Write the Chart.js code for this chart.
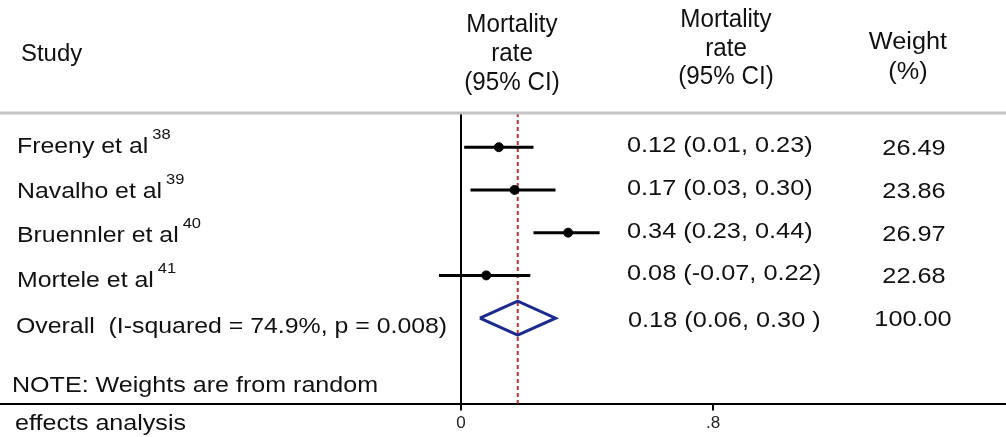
<!DOCTYPE html>
<html>
<head>
<meta charset="utf-8">
<script src="https://cdn.jsdelivr.net/npm/chart.js@4.4.1/dist/chart.umd.min.js"></script>
<style>
  html, body { margin: 0; padding: 0; background: #fff; }
  #wrap { position: relative; width: 1006px; height: 437px; }
</style>
</head>
<body>
<div id="wrap"><canvas id="forest"></canvas></div>
<script>
  "use strict";

  // study rows
  var studies = ["Freeny et al", "Navalho et al", "Bruennler et al", "Mortele et al"];
  var refs = ["38", "39", "40", "41"];
  var estimates = [0.12, 0.17, 0.34, 0.08];
  var lower = [0.01, 0.03, 0.23, -0.07];
  var upper = [0.23, 0.30, 0.44, 0.22];
  var ciText = ["0.12 (0.01, 0.23)", "0.17 (0.03, 0.30)", "0.34 (0.23, 0.44)", "0.08 (-0.07, 0.22)"];
  var weights = ["26.49", "23.86", "26.97", "22.68"];

  // pooled estimate
  var overallLabel = "Overall  (I-squared = 74.9%, p = 0.008)";
  var overallEst = 0.18;
  var overallLow = 0.06;
  var overallHigh = 0.30;
  var overallCi = "0.18 (0.06, 0.30 )";
  var overallWeight = "100.00";

  var xTicks = [0, 0.8];
  var xTickLabels = ["0", ".8"];

  var FONT = "'Liberation Sans', Arial, sans-serif";
  var overallRow = studies.length;

  // CI whiskers, one line dataset per study
  var datasets = [];
  studies.forEach(function(s, i) {
    datasets.push({
      type: "line",
      data: [{x: lower[i], y: i}, {x: upper[i], y: i}],
      borderColor: "#000",
      borderWidth: 3,
      pointRadius: 0,
      fill: false
    });
  });
  datasets.push({
    type: "scatter",
    data: estimates.map(function(v, i) { return {x: v, y: i}; }),
    backgroundColor: "#000",
    borderColor: "#000",
    pointRadius: 4.5
  });
  datasets.push({
    type: "line",
    data: [
      {x: overallLow, y: overallRow},
      {x: overallEst, y: overallRow - 0.4},
      {x: overallHigh, y: overallRow},
      {x: overallEst, y: overallRow + 0.4},
      {x: overallLow, y: overallRow}
    ],
    borderColor: "#1b2a8c",
    borderWidth: 3,
    pointRadius: 0,
    tension: 0,
    fill: false
  });

  function txt(ctx, s, x, y, align, size, sx) {
    ctx.save();
    ctx.font = size + "px " + FONT;
    ctx.textBaseline = "middle";
    ctx.textAlign = "left";
    var w = ctx.measureText(s).width * sx;
    var left = align === "center" ? x - w / 2 : (align === "right" ? x - w : x);
    ctx.translate(left, y);
    ctx.scale(sx, 1);
    ctx.fillText(s, 0, 0);
    ctx.restore();
    return left + w;
  }

  var forestText = {
    id: "forestText",
    beforeDatasetsDraw: function(chart) {
      var ctx = chart.ctx, xs = chart.scales.x, area = chart.chartArea;
      // pooled estimate reference line
      var xp = xs.getPixelForValue(overallEst);
      ctx.save();
      ctx.strokeStyle = "#b5343a";
      ctx.lineWidth = 2;
      ctx.setLineDash([4, 3]);
      ctx.beginPath();
      ctx.moveTo(xp, area.top);
      ctx.lineTo(xp, area.bottom);
      ctx.stroke();
      ctx.restore();
    },
    afterDraw: function(chart) {
      var ctx = chart.ctx, ys = chart.scales.y, area = chart.chartArea;
      ctx.save();
      ctx.fillStyle = "#111";

      // header
      ctx.strokeStyle = "#c4c4c4";
      ctx.lineWidth = 3;
      ctx.beginPath();
      ctx.moveTo(0, area.top);
      ctx.lineTo(chart.width, area.top);
      ctx.stroke();

      txt(ctx, "Study", 21, 55, "left", 23, 1.04);
      txt(ctx, "Mortality", 512, 25, "center", 26, 0.93);
      txt(ctx, "rate", 512, 54, "center", 26, 0.93);
      txt(ctx, "(95% CI)", 512, 83, "center", 26, 0.93);
      txt(ctx, "Mortality", 726, 20, "center", 26, 0.93);
      txt(ctx, "rate", 726, 49, "center", 26, 0.93);
      txt(ctx, "(95% CI)", 726, 77, "center", 26, 0.93);
      txt(ctx, "Weight", 908, 43, "center", 23, 1.1);
      txt(ctx, "(%)", 908, 73, "center", 23, 1.1);

      studies.forEach(function(s, i) {
        var y = ys.getPixelForValue(i);
        var ly = y + i * 1.7;
        var end = txt(ctx, s, 17, ly, "left", 22, 1.13);
        txt(ctx, refs[i], end + 4, ly - 12, "left", 15, 1.1);
        txt(ctx, ciText[i], 627, y - 1, "left", 22, 1.15);
        txt(ctx, weights[i], 914, y + 2, "center", 22, 1.15);
      });
      var yo = ys.getPixelForValue(overallRow);
      txt(ctx, overallLabel, 16, yo + 9, "left", 22, 1.13);
      txt(ctx, overallCi, 628, yo + 3, "left", 22, 1.15);
      txt(ctx, overallWeight, 913, yo + 2, "center", 22, 1.15);

      txt(ctx, "NOTE: Weights are from random", 12, 386, "left", 22, 1.14);
      txt(ctx, "effects analysis", 15, 424, "left", 22, 1.14);
      ctx.restore();
    }
  };

  var ctx = document.getElementById("forest").getContext("2d");

  var forestChart = new Chart(ctx, {
    type: "scatter",
    data: { datasets: datasets },
    options: {
      responsive: true,
      maintainAspectRatio: false,
      animation: false,
      layout: { autoPadding: false, padding: { top: 113, left: 0, right: 0, bottom: 0 } },
      plugins: {
        legend: { display: false },
        tooltip: { enabled: false }
      },
      scales: {
        x: {
          type: "linear",
          min: -1.4635,
          max: 1.73,
          afterBuildTicks: function(scale) {
            scale.ticks = xTicks.map(function(v) { return {value: v}; });
          },
          ticks: {
            autoSkip: false,
            maxRotation: 0,
            padding: 3,
            color: "#222",
            font: { family: FONT, size: 17 },
            callback: function(v) { return xTickLabels[xTicks.indexOf(v)]; }
          },
          grid: {
            drawOnChartArea: true,
            color: function(c) { return c.tick && c.tick.value === 0 ? "#000" : "rgba(0,0,0,0)"; },
            lineWidth: 2,
            tickColor: "#000",
            tickLength: 7
          },
          border: { display: true, color: "#000", width: 2 }
        },
        y: {
          type: "linear",
          display: false,
          reverse: true,
          min: -0.8,
          max: 6.0
        }
      }
    },
    plugins: [forestText]
  });
</script>
</body>
</html>
